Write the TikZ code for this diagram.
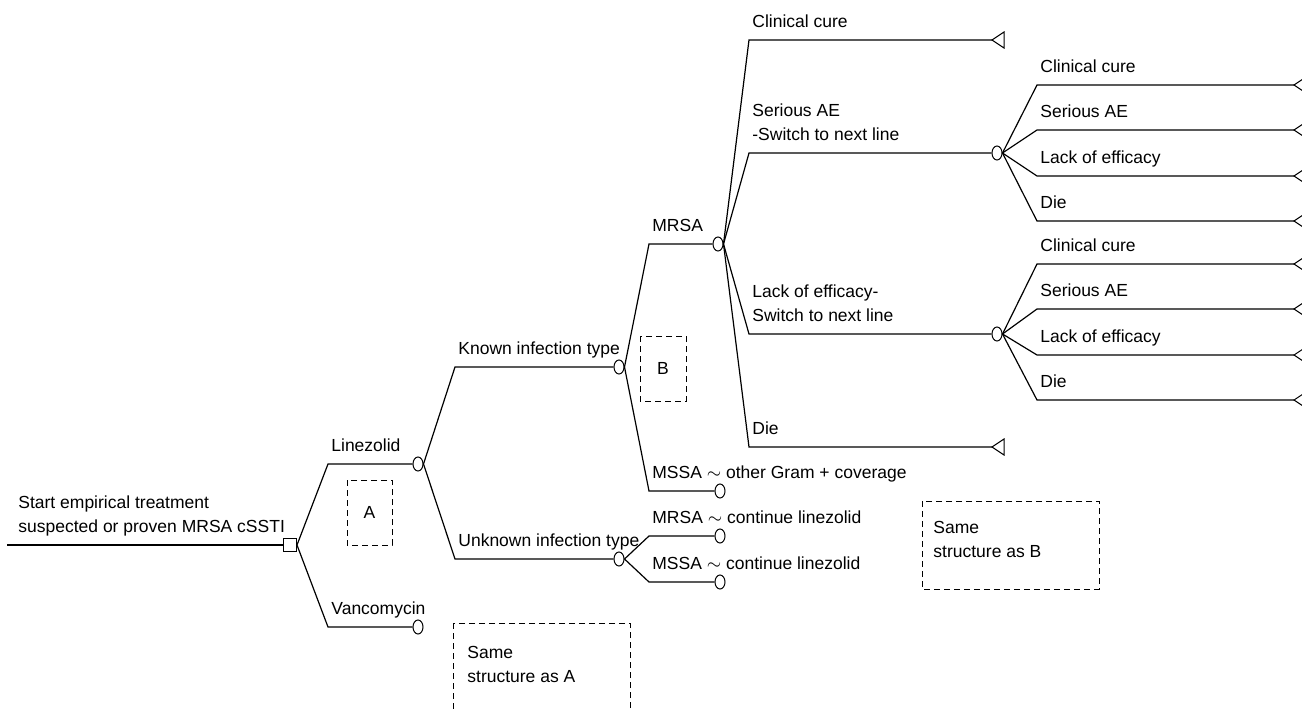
\documentclass[tikz,border=0pt]{standalone}
\usepackage{fontspec}
\setmainfont{Liberation Sans}
\usepackage{tikz}
\usetikzlibrary{shapes.geometric}

\tikzset{
  chance/.style={ellipse, draw, fill=white, line width=0.5pt, minimum width=5pt, minimum height=7pt, inner sep=0pt},
  decision/.style={rectangle, draw, fill=white, line width=0.5pt, minimum size=6.5pt, inner sep=0pt},
  terminal/.style={shape=coordinate},
  tri/.style={draw, fill=white, line width=0.5pt, line join=miter},
  lbl/.style={anchor=south west, inner sep=0pt, text depth=0pt, align=left, xshift=1.5pt, yshift=6pt},
  samebox/.style={draw, line width=0.45pt, dash pattern=on 3pt off 2pt},
  sametxt/.style={anchor=base west, align=left, inner sep=0pt},
  branch/.style={line width=0.6pt},
}
% end triangle, tip at the given node
\newcommand\termtri[1]{\draw[tri] (#1) -- ++(12,-8) -- ++(0,16) -- cycle;}

\begin{document}
\begin{tikzpicture}[x=0.5pt, y=-0.5pt, font=\fontsize{8.75}{12}\selectfont]
  \useasboundingbox (0,0) rectangle (1302,708);

  % Root and decision
  \coordinate (start) at (7,545);
  \node[decision] (dec) at (290,545) {};
  \draw[branch] (start) -- (dec.west);
  \node[lbl, xshift=4pt] (rootlbl) at (start) {Start empirical treatment\\suspected or proven MRSA cSSTI};

  % Treatment arms
  \coordinate (linK) at (328,464);
  \coordinate (vanK) at (328,627);
  \node[chance] (lin) at (418,464) {};
  \node[chance] (van) at (418,627) {};
  \draw[branch] (dec.east) -- (linK) -- (lin.west);
  \draw[branch] (dec.east) -- (vanK) -- (van.west);
  \node[lbl] (linlbl) at (linK) {Linezolid};
  \node[lbl] (vanlbl) at (vanK) {Vancomycin};

  % Infection type
  \coordinate (knoK) at (455,367);
  \coordinate (unkK) at (455,559);
  \node[chance] (kno) at (619,367) {};
  \node[chance] (unk) at (619,559) {};
  \draw[branch] (lin.east) -- (knoK) -- (kno.west);
  \draw[branch] (lin.east) -- (unkK) -- (unk.west);
  \node[lbl] (knolbl) at (knoK) {Known infection type};
  \node[lbl] (unklbl) at (unkK) {Unknown infection type};

  % Known: MRSA / MSSA
  \coordinate (mrsaK) at (649,244);
  \coordinate (mssaK) at (649,491);
  \node[chance] (mrsa) at (718,244) {};
  \node[chance] (mssa) at (720,491) {};
  \draw[branch] (kno.east) -- (mrsaK) -- (mrsa.west);
  \draw[branch] (kno.east) -- (mssaK) -- (mssa.west);
  \node[lbl] (mrsalbl) at (mrsaK) {MRSA};
  \node[lbl] (mssalbl) at (mssaK) {MSSA $\sim$ other Gram + coverage};

  % Unknown: continue linezolid
  \coordinate (mrscK) at (649,536);
  \coordinate (msscK) at (649,582);
  \node[chance] (mrsc) at (720,536) {};
  \node[chance] (mssc) at (720,582) {};
  \draw[branch] (unk.east) -- (mrscK) -- (mrsc.west);
  \draw[branch] (unk.east) -- (msscK) -- (mssc.west);
  \node[lbl] (mrsclbl) at (mrscK) {MRSA $\sim$ continue linezolid};
  \node[lbl] (mssclbl) at (msscK) {MSSA $\sim$ continue linezolid};

  % MRSA outcomes
  \coordinate (cureK) at (749,40);
  \coordinate (saeK) at (749,153);
  \coordinate (loeK) at (749,334);
  \coordinate (dieK) at (749,447);
  \node[terminal] (cure) at (992,40) {};
  \node[chance] (sae) at (997,153) {};
  \node[chance] (loe) at (997,334) {};
  \node[terminal] (die) at (992,447) {};
  \draw[branch] (mrsa.east) -- (cureK) -- (cure);
  \draw[branch] (mrsa.east) -- (saeK) -- (sae.west);
  \draw[branch] (mrsa.east) -- (loeK) -- (loe.west);
  \draw[branch] (mrsa.east) -- (dieK) -- (die);
  \termtri{cure}
  \termtri{die}
  \node[lbl] (curelbl) at (cureK) {Clinical cure};
  \node[lbl] (saelbl) at (saeK) {Serious AE\\-Switch to next line};
  \node[lbl] (loelbl) at (loeK) {Lack of efficacy-\\Switch to next line};
  \node[lbl] (dielbl) at (dieK) {Die};

  % Next line outcomes
  \foreach \src/\ya in {sae/85, loe/264} {
    \foreach \txt/\dy [count=\i] in {Clinical cure/0, Serious AE/45, Lack of efficacy/91, Die/136} {
      \coordinate (\src K\i) at (1037,\ya+\dy);
      \node[terminal] (\src T\i) at (1294,\ya+\dy) {};
      \draw[branch] (\src.east) -- (\src K\i) -- (\src T\i);
      \termtri{\src T\i}
      \node[lbl] (\src L\i) at (\src K\i) {\txt};
    }
  }

  % Dashed reference boxes
  \draw[samebox] (347,480) rectangle (392,545);
  \node (boxA) at (369.5,512.5) {A};
  \draw[samebox] (640,336) rectangle (686,401);
  \node (boxB) at (663,368.5) {B};
  \draw[samebox] (453,623) rectangle (630,712);
  \node[sametxt] (sameA) at (467,682) {Same\\structure as A};
  \draw[samebox] (922,501) rectangle (1099,589);
  \node[sametxt] (sameB) at (933,557) {Same\\structure as B};
\end{tikzpicture}
\end{document}
